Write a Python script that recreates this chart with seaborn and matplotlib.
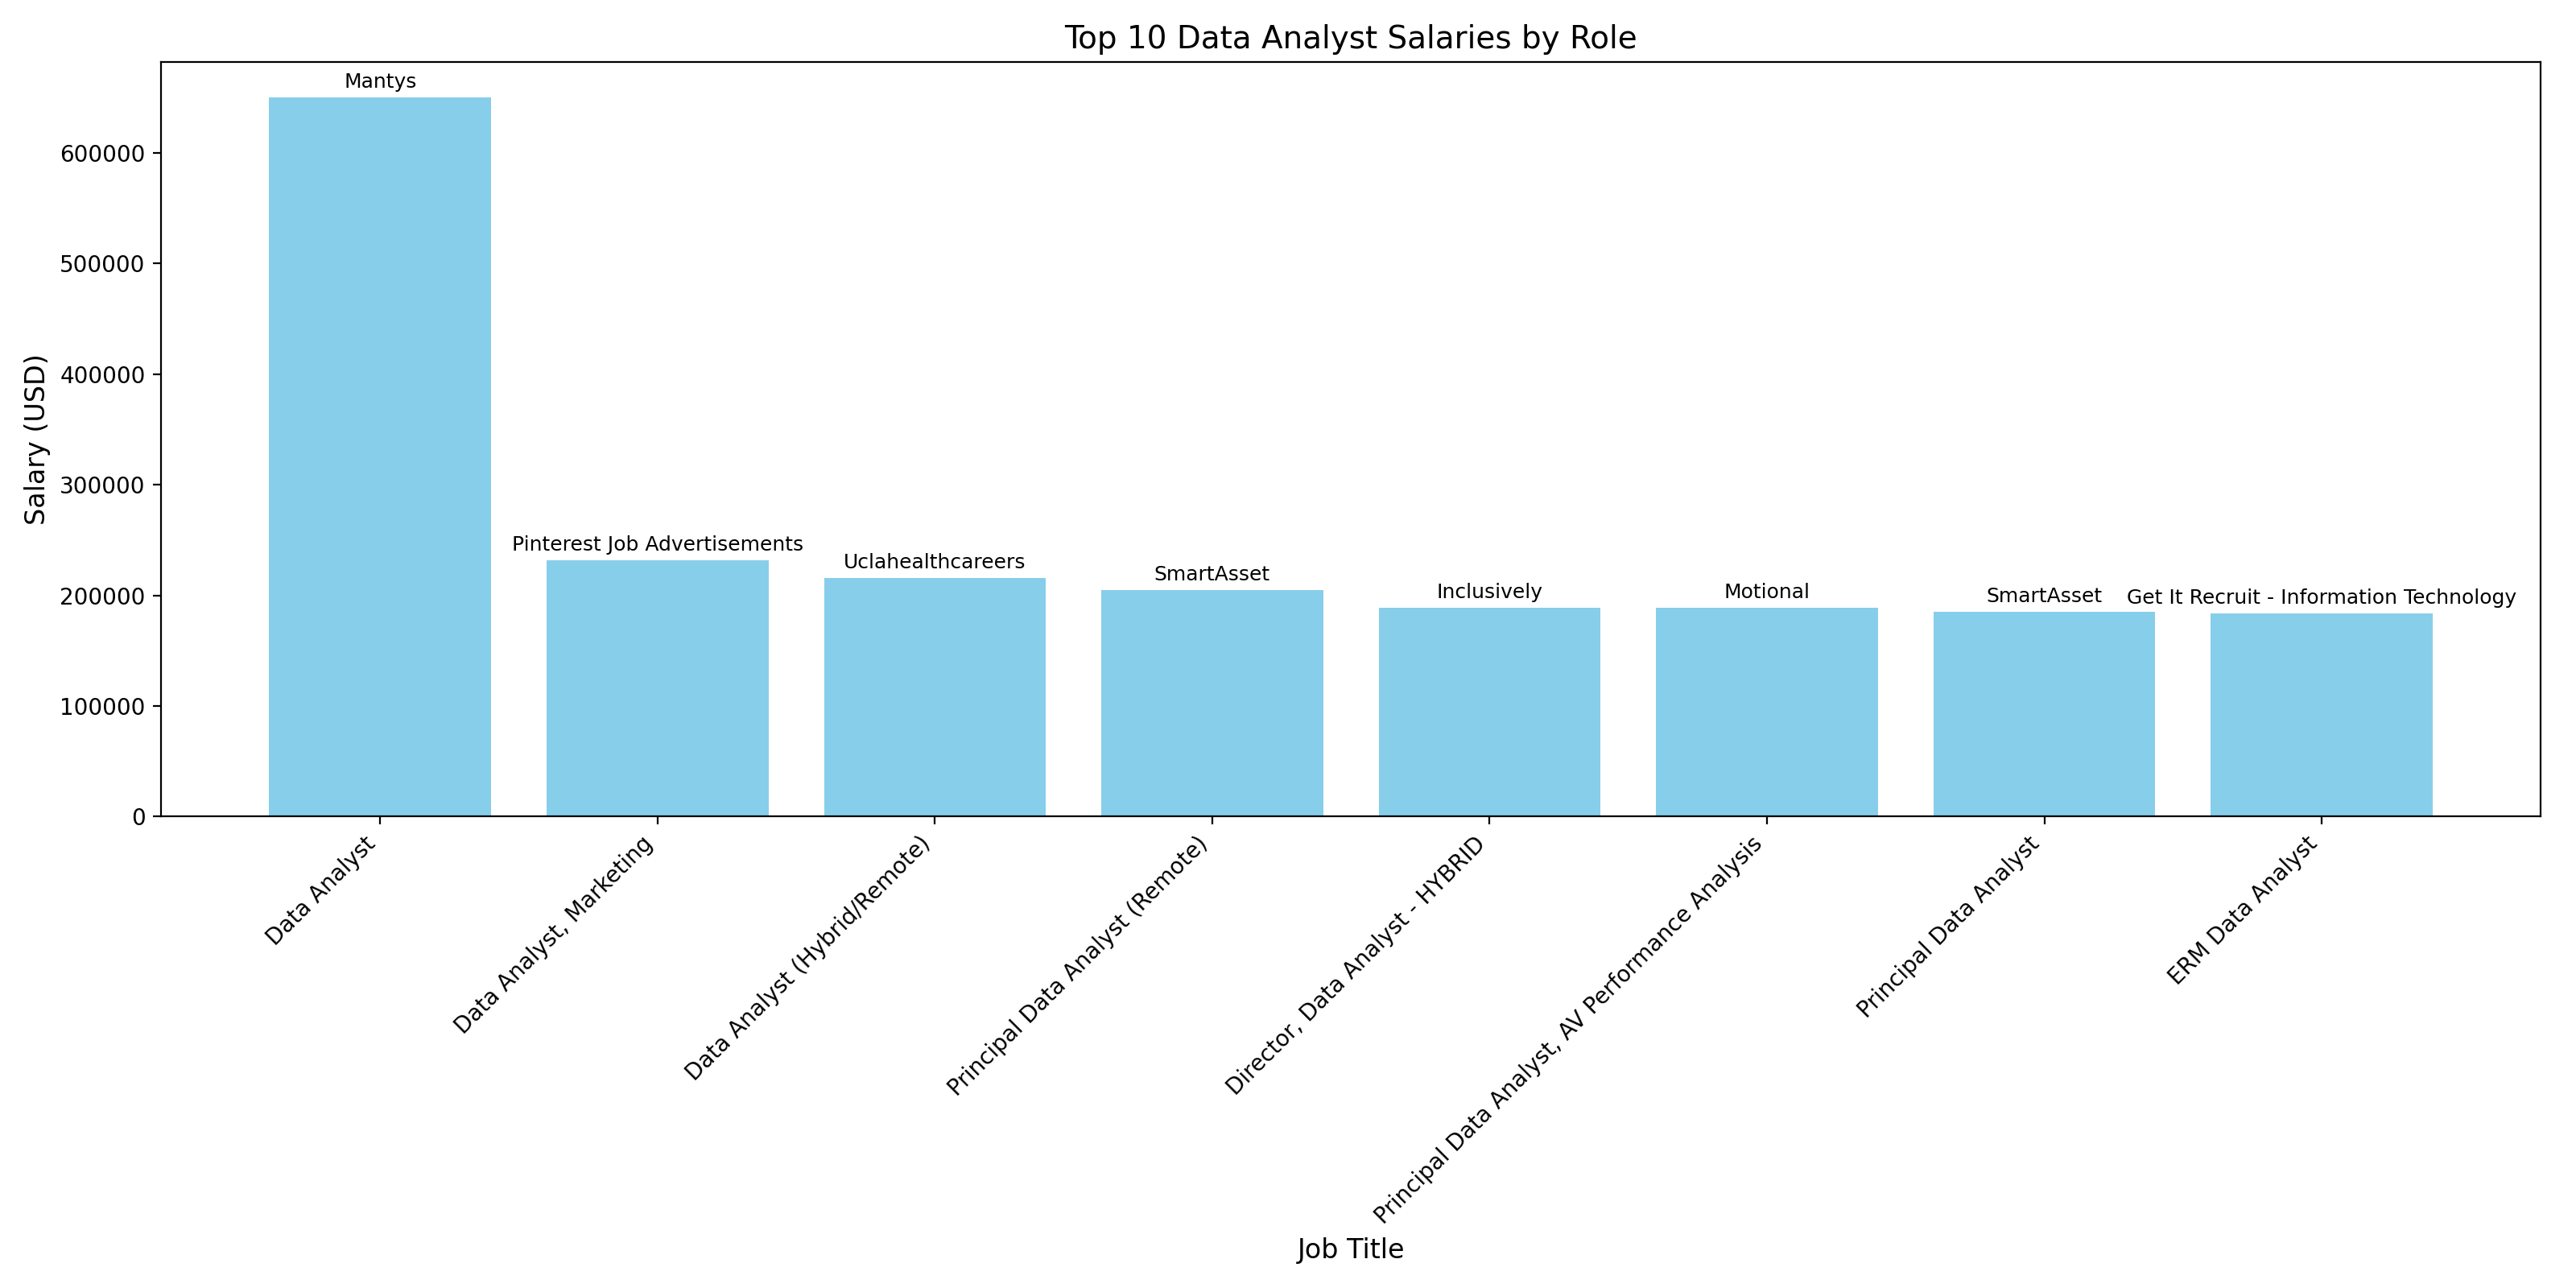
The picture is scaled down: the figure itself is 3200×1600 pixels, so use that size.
import matplotlib
matplotlib.use("Agg")
import matplotlib.pyplot as plt
import seaborn as sns
import pandas as pd

# values
job_titles = [
    "Data Analyst",
    "Data Analyst, Marketing",
    "Data Analyst (Hybrid/Remote)",
    "Principal Data Analyst (Remote)",
    "Director, Data Analyst - HYBRID",
    "Principal Data Analyst, AV Performance Analysis",
    "Principal Data Analyst",
    "ERM Data Analyst",
]
salaries = [650000, 231600, 216000, 204800, 188700, 188700, 185000, 183500]
companies = [
    "Mantys",
    "Pinterest Job Advertisements",
    "Uclahealthcareers",
    "SmartAsset",
    "Inclusively",
    "Motional",
    "SmartAsset",
    "Get It Recruit - Information Technology",
]

df = pd.DataFrame({"Job Title": job_titles, "Salary": salaries, "Company": companies})

fig, ax = plt.subplots(figsize=(16, 8), dpi=200)
sns.barplot(data=df, x="Job Title", y="Salary", color="skyblue",
            saturation=1, width=0.8, ax=ax)

# company name above each bar
for i, row in df.iterrows():
    ax.text(i, row["Salary"] + 5000, row["Company"], ha="center", va="bottom", fontsize=9)

ax.set_xlim(-0.79, len(df) - 1 + 0.79)
ax.set_ylim(0, max(salaries) * 1.05)
ax.set_title("Top 10 Data Analyst Salaries by Role", fontsize=14)
ax.set_xlabel("Job Title", fontsize=12)
ax.set_ylabel("Salary (USD)", fontsize=12)
plt.xticks(rotation=45, ha="right")
plt.tight_layout()
plt.savefig("out.png")
